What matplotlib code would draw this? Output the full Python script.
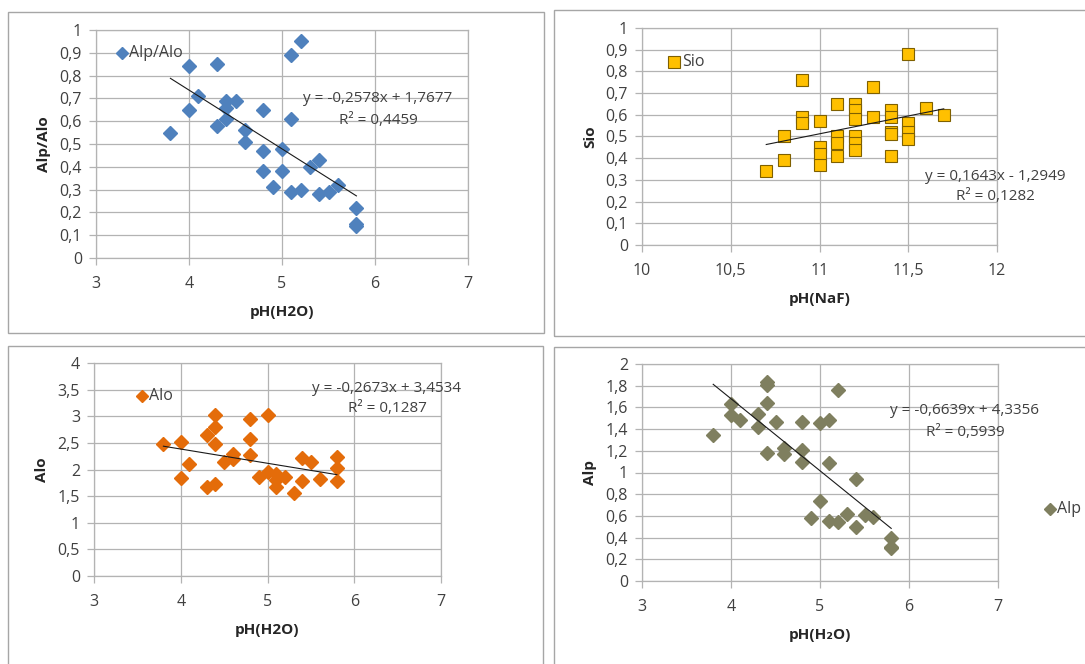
import matplotlib
matplotlib.use("Agg")
import matplotlib.pyplot as plt
from matplotlib.patches import Rectangle
import numpy as np

plt.rcParams['font.family'] = ['Open Sans', 'DejaVu Sans']

# ---------------- data ----------------
alpalo_x = [3.8, 4.0, 4.0, 4.1, 4.3, 4.3, 4.4, 4.4, 4.4, 4.5, 4.6, 4.6, 4.8, 4.8, 4.8, 4.9,
            5.0, 5.0, 5.1, 5.1, 5.1, 5.2, 5.2, 5.3, 5.4, 5.4, 5.5, 5.6, 5.8, 5.8, 5.8]
alpalo_y = [0.55, 0.84, 0.65, 0.71, 0.85, 0.58, 0.69, 0.66, 0.61, 0.69, 0.56, 0.51, 0.65, 0.47, 0.38, 0.31,
            0.48, 0.38, 0.89, 0.61, 0.29, 0.95, 0.30, 0.40, 0.43, 0.28, 0.29, 0.32, 0.22, 0.15, 0.14]

sio_x = [10.7, 10.8, 10.8, 10.9, 10.9, 10.9, 11.0, 11.0, 11.0, 11.0, 11.1, 11.1, 11.1, 11.1,
         11.2, 11.2, 11.2, 11.2, 11.2, 11.2, 11.3, 11.3, 11.4, 11.4, 11.4, 11.4, 11.4,
         11.5, 11.5, 11.5, 11.5, 11.6, 11.7]
sio_y = [0.34, 0.50, 0.39, 0.76, 0.59, 0.56, 0.57, 0.45, 0.42, 0.37, 0.65, 0.50, 0.47, 0.41,
         0.65, 0.62, 0.58, 0.50, 0.47, 0.44, 0.73, 0.59, 0.62, 0.59, 0.52, 0.51, 0.41,
         0.88, 0.56, 0.52, 0.49, 0.63, 0.60]

alo_x = [3.8, 4.0, 4.0, 4.1, 4.3, 4.3, 4.4, 4.4, 4.4, 4.4, 4.5, 4.6, 4.6, 4.8, 4.8, 4.8,
         4.9, 5.0, 5.0, 5.1, 5.1, 5.1, 5.2, 5.3, 5.4, 5.4, 5.5, 5.6, 5.8, 5.8, 5.8]
alo_y = [2.48, 2.51, 1.84, 2.10, 2.65, 1.67, 3.02, 2.80, 2.47, 1.72, 2.15, 2.30, 2.20, 2.94, 2.58, 2.28,
         1.86, 3.02, 1.96, 1.91, 1.80, 1.67, 1.85, 1.56, 2.22, 1.78, 2.14, 1.82, 2.24, 2.02, 1.79]

alp_x = [3.8, 4.0, 4.0, 4.1, 4.3, 4.3, 4.4, 4.4, 4.4, 4.4, 4.5, 4.6, 4.6, 4.8, 4.8, 4.8,
         4.9, 5.0, 5.0, 5.1, 5.1, 5.1, 5.2, 5.2, 5.3, 5.4, 5.4, 5.5, 5.6, 5.8, 5.8, 5.8]
alp_y = [1.35, 1.63, 1.53, 1.48, 1.54, 1.42, 1.83, 1.81, 1.64, 1.18, 1.47, 1.23, 1.17, 1.47, 1.21, 1.10,
         0.58, 1.46, 0.74, 1.48, 1.09, 0.55, 1.76, 0.54, 0.62, 0.94, 0.50, 0.61, 0.59, 0.40, 0.31, 0.30]

# trend line coefficients (slope, intercept) and labels
trend_alpalo = (-0.2578, 1.7677)
trend_sio = (0.1643, -1.2949)
trend_alo = (-0.2673, 3.4534)
trend_alp = (-0.6639, 4.3356)
eq_alpalo = ["y = -0,2578x + 1,7677", "R² = 0,4459"]
eq_sio = ["y = 0,1643x - 1,2949", "R² = 0,1282"]
eq_alo = ["y = -0,2673x + 3,4534", "R² = 0,1287"]
eq_alp = ["y = -0,6639x + 4,3356", "R² = 0,5939"]

ph_ticks = [3, 4, 5, 6, 7]
naf_ticks = [10, 10.5, 11, 11.5, 12]
naf_ticklabels = ["10", "10,5", "11", "11,5", "12"]
ratio_ticks = [0, 0.1, 0.2, 0.3, 0.4, 0.5, 0.6, 0.7, 0.8, 0.9, 1]
alo_ticks = [0, 0.5, 1, 1.5, 2, 2.5, 3, 3.5, 4]
alp_ticks = [0, 0.2, 0.4, 0.6, 0.8, 1, 1.2, 1.4, 1.6, 1.8, 2]

# ---------------- layout helpers ----------------
W, H = 1085, 664
fig = plt.figure(figsize=(W / 100, H / 100), dpi=100)
fig.patch.set_facecolor('white')


def fx(px):
    return px / W


def fy(py):
    return 1 - py / H


def frame(x0, y0, x1, y1):
    fig.patches.append(Rectangle((fx(x0), fy(y1)), fx(x1 - x0), (y1 - y0) / H,
                                 transform=fig.transFigure, fill=False,
                                 edgecolor='#A6A6A6', lw=1.0))


def make_ax(l, r, t, b):
    return fig.add_axes([fx(l), fy(b), fx(r - l), (b - t) / H])


def fmt(v):
    s = ('%g' % v)
    return s.replace('.', ',')


GRID = '#B3B3B3'
TICK_FS = 11.5
LAB_FS = 11
EQ_FS = 11
LEG_FS = 11.5
MS = 7


def style(ax, xt, yt, xlabels=None, xlabel='', ylabel=''):
    ax.set_xlim(xt[0], xt[-1])
    ax.set_ylim(yt[0], yt[-1])
    ax.set_xticks(xt)
    ax.set_yticks(yt)
    ax.set_xticklabels(xlabels if xlabels else [fmt(v) for v in xt], fontsize=TICK_FS, color='#404040')
    ax.set_yticklabels([fmt(v) for v in yt], fontsize=TICK_FS, color='#404040')
    ax.grid(True, color=GRID, lw=0.9)
    ax.set_axisbelow(True)
    for s in ax.spines.values():
        s.set_color(GRID)
        s.set_linewidth(0.9)
    ax.tick_params(axis='both', length=5, width=0.9, color=GRID, pad=5)
    ax.tick_params(axis='x', pad=8)
    ax.set_xlabel(xlabel, fontsize=LAB_FS, fontweight='bold', labelpad=9, color='#262626')
    ax.set_ylabel(ylabel, fontsize=LAB_FS, fontweight='bold', labelpad=6, color='#262626')


def trend(ax, xs, coef):
    x0, x1 = min(xs), max(xs)
    xx = np.array([x0, x1])
    ax.plot(xx, coef[0] * xx + coef[1], color='#1a1a1a', lw=0.8, zorder=4)


def eq(lines, cx, y1, y2):
    fig.text(fx(cx), fy(y1), lines[0], ha='center', va='center', fontsize=EQ_FS, color='#404040')
    fig.text(fx(cx), fy(y2), lines[1], ha='center', va='center', fontsize=EQ_FS, color='#404040')


# frames
frame(8, 12, 544, 333)
frame(554, 10, 1090, 336)
frame(8, 346, 543, 670)
frame(554, 347, 1090, 670)

# ---------------- panel 1: Alp/Alo ----------------
ax1 = make_ax(96, 468, 30, 258)
ax1.plot(alpalo_x, alpalo_y, 'D', ms=MS, color='#4F81BD', mec='#4F81BD', zorder=3)
trend(ax1, alpalo_x, trend_alpalo)
style(ax1, ph_ticks, ratio_ticks, xlabel='pH(H2O)', ylabel='Alp/Alo')
ax1.plot([3.28], [0.9], 'D', ms=6, color='#4F81BD', clip_on=False)
ax1.text(3.36, 0.9, 'Alp/Alo', fontsize=LEG_FS, va='center', color='#404040')
eq(eq_alpalo, 378, 99, 120)

# ---------------- panel 2: Sio ----------------
ax2 = make_ax(642, 997, 28, 245)
ax2.plot(sio_x, sio_y, 's', ms=8.5, color='#FFC000', mec='#7F6000', mew=0.8, zorder=3)
trend(ax2, sio_x, trend_sio)
style(ax2, naf_ticks, ratio_ticks, xlabels=naf_ticklabels, xlabel='pH(NaF)', ylabel='Sio')
ax2.plot([10.18], [0.845], 's', ms=8, color='#FFC000', mec='#7F6000', mew=0.8, clip_on=False)
ax2.text(10.225, 0.845, 'Sio', fontsize=LEG_FS, va='center', color='#404040')
eq(eq_sio, 995, 176, 197)

# ---------------- panel 3: Alo ----------------
ax3 = make_ax(94, 441, 363, 576)
ax3.plot(alo_x, alo_y, 'D', ms=MS, color='#E46C0A', mec='#E46C0A', zorder=3)
trend(ax3, alo_x, trend_alo)
style(ax3, ph_ticks, alo_ticks, xlabel='pH(H2O)', ylabel='Alo')
ax3.plot([3.55], [3.38], 'D', ms=6, color='#E46C0A', clip_on=False)
ax3.text(3.63, 3.38, 'Alo', fontsize=LEG_FS, va='center', color='#404040')
eq(eq_alo, 387, 388, 408)

# ---------------- panel 4: Alp ----------------
ax4 = make_ax(642, 998, 364, 581)
ax4.plot(alp_x, alp_y, 'D', ms=MS, color='#7F7F5F', mec='#7F7F5F', zorder=3)
trend(ax4, alp_x, trend_alp)
style(ax4, ph_ticks, alp_ticks, xlabel='pH(H₂O)', ylabel='Alp')
fig.lines.append(plt.Line2D([fx(1050)], [fy(509)], marker='D', ms=6, color='#7F7F5F',
                            transform=fig.transFigure))
fig.text(fx(1057), fy(509), 'Alp', fontsize=LEG_FS, va='center', color='#404040')
eq(eq_alp, 965, 411, 432)

fig.savefig('out.png', dpi=100, facecolor='white')
